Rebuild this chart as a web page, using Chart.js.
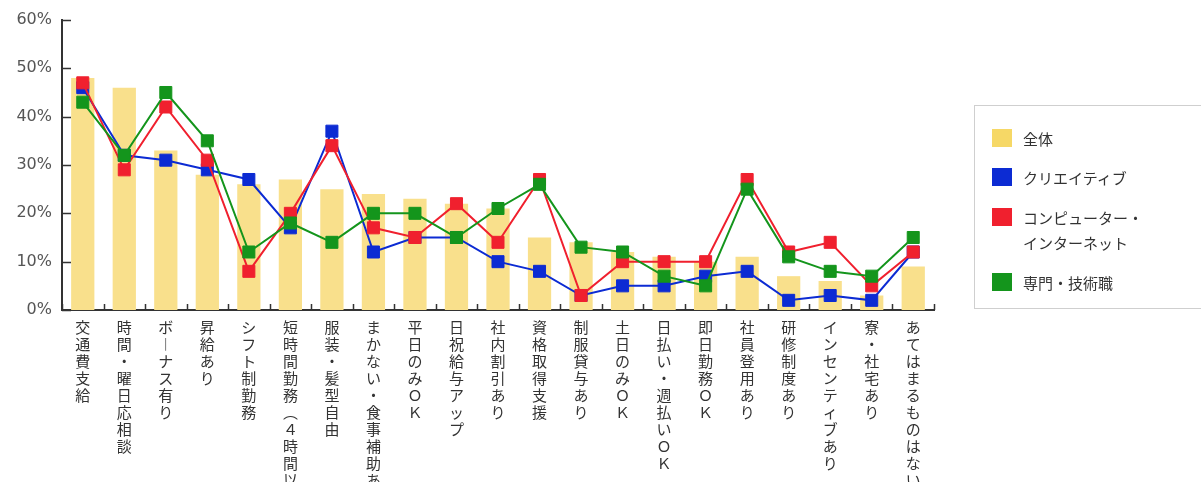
<!DOCTYPE html>
<html lang="ja">
<head>
<meta charset="utf-8">
<title>待遇・条件</title>
<script src="https://cdn.jsdelivr.net/npm/chart.js@4.4.1/dist/chart.umd.min.js"></script>
<style>
  html, body { margin: 0; padding: 0; background: #fff; }
  body { width: 1201px; height: 482px; position: relative; overflow: hidden; }
  #wrap { position: absolute; left: 0; top: 0; width: 1201px; height: 482px; }
  #legend {
    position: absolute; left: 974px; top: 105px; width: 240px; height: 204px;
    border: 1px solid #cfcfcf; box-sizing: border-box;
    font-family: "Noto Sans CJK JP", sans-serif; font-size: 15px; color: #333;
  }
  #legend .item { position: absolute; left: 17px; }
  #legend .sw { position: absolute; left: 0; top: 1px; width: 20px; height: 18px; }
  #legend .tx { position: absolute; left: 31px; top: -2px; white-space: nowrap; line-height: 25px; }
</style>
</head>
<body>
<div id="wrap"><canvas id="chart"></canvas></div>
<div id="legend"></div>
<script>
// 項目（横軸）
const categories = [
  "交通費支給", "時間・曜日応相談", "ボーナス有り", "昇給あり", "シフト制勤務",
  "短時間勤務（４時間以内）", "服装・髪型自由", "まかない・食事補助あり", "平日のみＯＫ",
  "日祝給与アップ", "社内割引あり", "資格取得支援", "制服貸与あり", "土日のみＯＫ",
  "日払い・週払いＯＫ", "即日勤務ＯＫ", "社員登用あり", "研修制度あり",
  "インセンティブあり", "寮・社宅あり", "あてはまるものはない"
];

// 各系列の値（%）
const zentai   = [48, 46, 33, 28, 26, 27, 25, 24, 23, 22, 21, 15, 14, 12, 11, 10, 11, 7, 6, 3, 9];
const creative = [46, 32, 31, 29, 27, 17, 37, 12, 15, 15, 10, 8, 3, 5, 5, 7, 8, 2, 3, 2, 12];
const computer = [47, 29, 42, 31, 8, 20, 34, 17, 15, 22, 14, 27, 3, 10, 10, 10, 27, 12, 14, 5, 12];
const senmon   = [43, 32, 45, 35, 12, 18, 14, 20, 20, 15, 21, 26, 13, 12, 7, 5, 25, 11, 8, 7, 15];

const yTicks = [0, 10, 20, 30, 40, 50, 60];

const YELLOW = "#F9E08C";
const BLUE = "#0C2BD3";
const RED = "#F0202E";
const GREEN = "#14951C";

// 縦書き用の字形
const vertForms = { "ー": "︱", "（": "︵", "）": "︶" };
const toVertical = s => Array.from(s).map(c => vertForms[c] || c);

// 軸の内向き目盛り
const innerTicks = {
  id: "innerTicks",
  beforeDatasetsDraw(chart) {
    const { ctx, scales: { x, y } } = chart;
    ctx.save();
    ctx.strokeStyle = "#333";
    ctx.lineWidth = 1.5;
    ctx.beginPath();
    for (let i = 0; i <= categories.length; i++) {
      const px = Math.round(x.left + (x.right - x.left) * i / categories.length) + 0.5;
      ctx.moveTo(px, y.bottom);
      ctx.lineTo(px, y.bottom - 6);
    }
    yTicks.forEach(v => {
      const py = Math.round(y.getPixelForValue(v)) + 0.5;
      ctx.moveTo(x.left, py);
      ctx.lineTo(x.left + 9, py);
    });
    ctx.stroke();
    ctx.restore();
  }
};

const lineSet = (label, data, color, order) => ({
  type: "line",
  label,
  data,
  order,
  borderColor: color,
  backgroundColor: color,
  borderWidth: 2,
  pointStyle: "rect",
  pointRadius: 8.5,
  pointBorderWidth: 1,
  pointBorderColor: color,
  pointBackgroundColor: color,
  tension: 0
});

const ctx = document.getElementById("chart").getContext("2d");
new Chart(ctx, {
  data: {
    labels: categories,
    datasets: [
      { type: "bar", label: "全体", data: zentai, order: 4, backgroundColor: YELLOW,
        barPercentage: 0.56, categoryPercentage: 1.0 },
      lineSet("クリエイティブ", creative, BLUE, 3),
      lineSet("コンピューター・インターネット", computer, RED, 2),
      lineSet("専門・技術職", senmon, GREEN, 1)
    ]
  },
  options: {
    responsive: true,
    maintainAspectRatio: false,
    animation: false,
    layout: { padding: { top: 20, right: 267, left: 0, bottom: 0 } },
    plugins: { legend: { display: false }, tooltip: { enabled: false } },
    scales: {
      x: {
        offset: true,
        grid: { display: false },
        border: { color: "#333", width: 2 },
        afterFit(scale) { scale.height = 172; },
        ticks: {
          autoSkip: false,
          maxRotation: 0,
          minRotation: 0,
          padding: 1,
          color: "#333",
          font: { family: "'Noto Sans CJK JP', sans-serif", size: 15, lineHeight: "17px" },
          callback: (v, i) => toVertical(categories[i])
        }
      },
      y: {
        min: 0,
        max: 60,
        grid: { display: false },
        border: { color: "#333", width: 2 },
        afterFit(scale) { scale.width = 62; },
        afterBuildTicks(scale) { scale.ticks = yTicks.map(v => ({ value: v })); },
        ticks: {
          padding: 2,
          color: "#555",
          font: { family: "'DejaVu Sans', sans-serif", size: 16 },
          callback: v => v + "%"
        }
      }
    }
  },
  plugins: [innerTicks]
});

// 凡例
const legendItems = [
  { color: "#F6D866", lines: ["全体"], top: 22 },
  { color: BLUE, lines: ["クリエイティブ"], top: 61 },
  { color: RED, lines: ["コンピューター・", "インターネット"], top: 101 },
  { color: GREEN, lines: ["専門・技術職"], top: 166 }
];
const legend = document.getElementById("legend");
legendItems.forEach(it => {
  const d = document.createElement("div");
  d.className = "item";
  d.style.top = it.top + "px";
  d.innerHTML = '<span class="sw" style="background:' + it.color + '"></span>' +
    '<span class="tx">' + it.lines.join("<br>") + "</span>";
  legend.appendChild(d);
});
</script>
</body>
</html>
